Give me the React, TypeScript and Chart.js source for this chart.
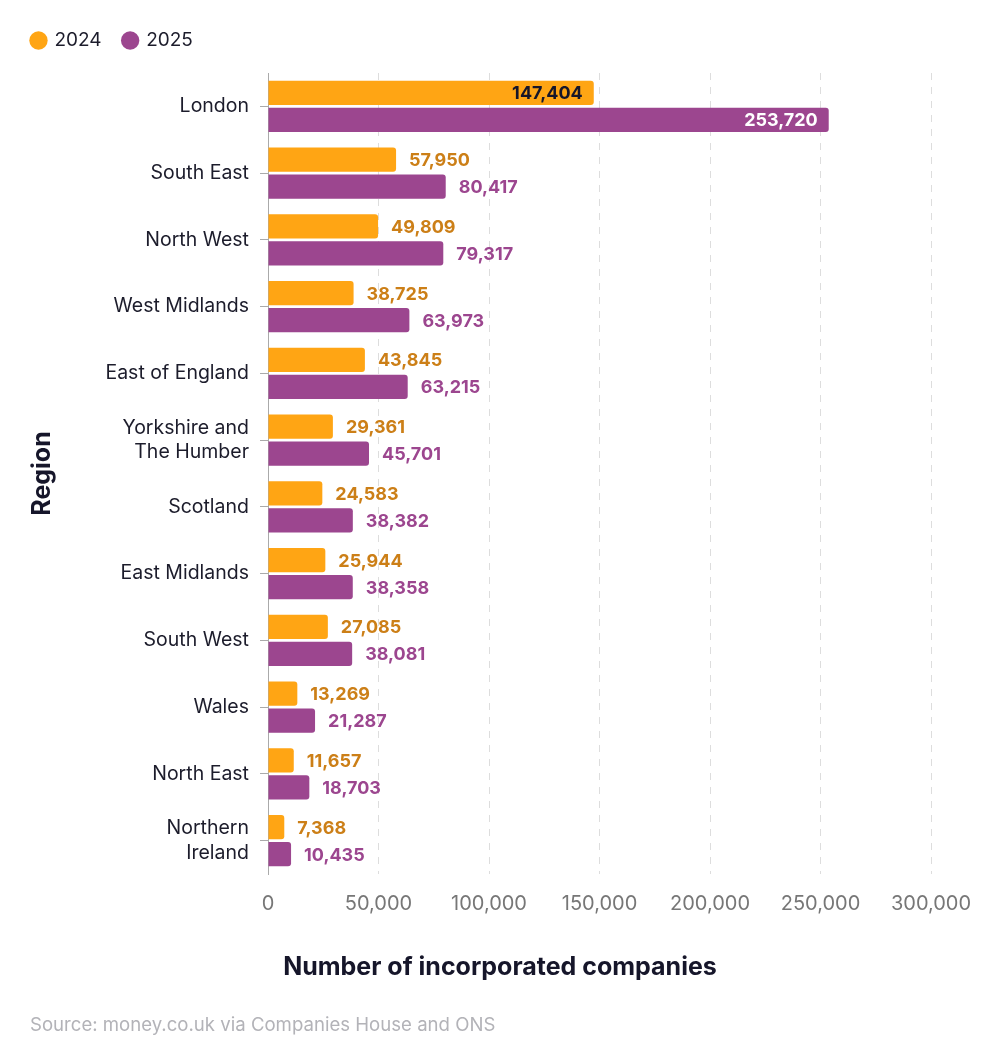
import React, { useEffect, useRef } from "react";
import { Chart, registerables } from "chart.js";

Chart.register(...registerables);

const regions: (string | string[])[] = [
  "London",
  "South East",
  "North West",
  "West Midlands",
  "East of England",
  ["Yorkshire and", "The Humber"],
  "Scotland",
  "East Midlands",
  "South West",
  "Wales",
  "North East",
  ["Northern", "Ireland"],
];

const values2024 = [147404, 57950, 49809, 38725, 43845, 29361, 24583, 25944, 27085, 13269, 11657, 7368];
const values2025 = [253720, 80417, 79317, 63973, 63215, 45701, 38382, 38358, 38081, 21287, 18703, 10435];

const xMax = 300000;
const xStep = 50000;
const xTitle = "Number of incorporated companies";

const ORANGE = "#FFA514";
const PURPLE = "#9C468F";
const ORANGE_TEXT = "#CC7F17";
const PURPLE_TEXT = "#9C468F";

const labelPlugin = {
  id: "barLabels",
  afterDatasetsDraw(chart: any) {
    const ctx = chart.ctx;
    ctx.save();
    ctx.font = "700 18px Inter";
    ctx.textBaseline = "middle";
    chart.data.datasets.forEach((ds: any, di: number) => {
      const meta = chart.getDatasetMeta(di);
      meta.data.forEach((bar: any, i: number) => {
        const v = ds.data[i] as number;
        const { x, y, base } = bar.getProps(["x", "y", "base"], true);
        const w = x - base;
        const text = v.toLocaleString("en-US");
        if (w > 200) {
          ctx.textAlign = "right";
          ctx.fillStyle = di === 0 ? "#16162a" : "#ffffff";
          ctx.fillText(text, x - 11, y + 1);
        } else {
          ctx.textAlign = "left";
          ctx.fillStyle = di === 0 ? ORANGE_TEXT : PURPLE_TEXT;
          ctx.fillText(text, x + 13, y + 1);
        }
      });
    });
    ctx.restore();
  },
};

const centeredXTitlePlugin = {
  id: "centeredXTitle",
  afterDraw(chart: any) {
    const ctx = chart.ctx;
    const xs = chart.scales.x;
    ctx.save();
    ctx.font = "700 25px Inter";
    ctx.fillStyle = "#16162a";
    ctx.textAlign = "center";
    ctx.textBaseline = "middle";
    ctx.fillText(xTitle, chart.width / 2, xs.bottom - 15);
    ctx.restore();
  },
};

const legendHeightPlugin = {
  id: "legendHeight",
  beforeInit(chart: any) {
    const legend = chart.legend;
    if (!legend) return;
    const orig = legend.fit;
    legend.fit = function () {
      orig.call(this);
      this.height = 64;
    };
  },
};

export default function App() {
  const canvasRef = useRef<HTMLCanvasElement | null>(null);

  useEffect(() => {
    document.body.style.margin = "0";
    Chart.defaults.font.family = "Inter, 'Noto Sans', sans-serif";
    const canvas = canvasRef.current;
    if (!canvas) return;
    const chart = new Chart(canvas, {
      type: "bar",
      data: {
        labels: regions as any,
        datasets: [
          {
            label: "2024",
            data: values2024,
            backgroundColor: ORANGE,
            borderRadius: 3,
            categoryPercentage: 0.81,
            barPercentage: 0.89,
          },
          {
            label: "2025",
            data: values2025,
            backgroundColor: PURPLE,
            borderRadius: 3,
            categoryPercentage: 0.81,
            barPercentage: 0.89,
          },
        ],
      },
      options: {
        indexAxis: "y",
        responsive: false,
        animation: false,
        layout: { padding: { left: 10, right: 69, top: 9, bottom: 78 } },
        plugins: {
          legend: {
            position: "top",
            align: "start",
            labels: {
              usePointStyle: true,
              pointStyle: "circle",
              boxWidth: 13,
              boxHeight: 13,
              padding: 22,
              color: "#1c1c2b",
              font: { size: 19 },
            },
          },
          tooltip: { enabled: false },
          title: { display: false },
        },
        scales: {
          x: {
            type: "linear",
            min: 0,
            max: xMax,
            ticks: {
              stepSize: xStep,
              color: "#777777",
              font: { size: 20 },
              padding: 18,
              callback: (v: any) => Number(v).toLocaleString("en-US"),
            },
            grid: { color: "#dddddd", drawTicks: false, lineWidth: 1 },
            border: { display: false, dash: [7, 7] },
            title: {
              display: true,
              text: xTitle,
              color: "rgba(0,0,0,0)",
              font: { size: 25, weight: "bold" },
              padding: { top: 18, bottom: 0 },
            },
          },
          y: {
            type: "category",
            ticks: {
              color: "#1c1c2b",
              font: { size: 19.5, lineHeight: 1.28 },
              padding: 11,
            },
            grid: { offset: false, drawOnChartArea: false, drawTicks: true, tickLength: 8, color: "#aaaaaa" },
            border: { display: true, color: "#aaaaaa", width: 1 },
            title: {
              display: true,
              text: "Region",
              color: "#16162a",
              font: { size: 25, weight: "bold" },
              padding: { top: 17, bottom: 0 },
            },
            afterFit: (scale: any) => {
              scale.width = 258;
            },
          },
        },
      },
      plugins: [labelPlugin, centeredXTitlePlugin, legendHeightPlugin],
    });
    return () => chart.destroy();
  }, []);

  return (
    <div style={{ position: "relative", width: 1000, height: 1060 }}>
      <canvas ref={canvasRef} width={1000} height={1060} style={{ display: "block" }} />
      <div
        style={{
          position: "absolute",
          left: 30,
          top: 1013,
          fontFamily: "Inter, 'Noto Sans', sans-serif",
          fontSize: 18.6,
          lineHeight: "22px",
          color: "#b3b3b8",
          whiteSpace: "nowrap",
        }}
      >
        Source: money.co.uk via Companies House and ONS
      </div>
    </div>
  );
}
